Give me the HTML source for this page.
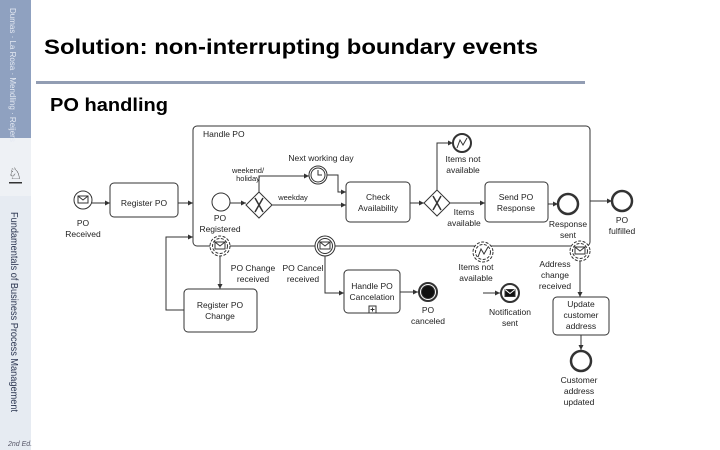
<!DOCTYPE html>
<html><head><meta charset="utf-8"><style>
html,body{margin:0;padding:0;width:720px;height:450px;overflow:hidden;background:#fff}
svg{display:block;font-family:"Liberation Sans",Arial,sans-serif}
</style></head><body>
<svg width="720" height="450" viewBox="0 0 720 450" xmlns="http://www.w3.org/2000/svg">
<defs>
<marker id="a" markerWidth="6" markerHeight="6" refX="5" refY="3" orient="auto" markerUnits="userSpaceOnUse"><path d="M0,0.5 L5,3 L0,5.5z" fill="#333"/></marker>
</defs>
<!-- sidebar -->
<rect x="0" y="0" width="31" height="138" fill="#8fa1c0"/>
<rect x="0" y="138" width="31" height="58" fill="#eef1f5"/>
<rect x="0" y="196" width="31" height="254" fill="#e6ebf2"/>
<text transform="translate(10,8) rotate(90)" font-size="8" fill="#e4e9f2">Dumas · La Rosa · Mendling · Reijers</text>
<text x="15" y="179" font-size="16" text-anchor="middle" fill="#333">♘</text>
<rect x="9" y="182" width="13" height="1.5" fill="#333"/>
<text transform="translate(11,212) rotate(90)" font-size="10.5" fill="#2b3550" textLength="200" lengthAdjust="spacingAndGlyphs">Fundamentals of Business Process Management</text>
<text x="8" y="446" font-size="7" fill="#556" font-style="italic">2nd Ed.</text>
<!-- title -->
<text x="44" y="54" font-size="21" font-weight="bold" fill="#000" textLength="494" lengthAdjust="spacingAndGlyphs">Solution: non-interrupting boundary events</text>
<rect x="36" y="81" width="549" height="3" fill="#929db3"/>
<text x="50" y="111" font-size="18" font-weight="600" fill="#000" textLength="118" lengthAdjust="spacingAndGlyphs">PO handling</text>
<g fill="none" stroke="#333" stroke-width="1">
<rect x="193" y="126" width="397" height="120" rx="4"/>
<circle cx="83" cy="200" r="9"/>
<rect x="78" y="196" width="10" height="7"/><path d="M78,196 L83,200 L88,196"/>
<rect x="110" y="183" width="68" height="34" rx="4"/>
<path d="M92,203 H110" marker-end="url(#a)"/>
<path d="M178,203 H193" marker-end="url(#a)"/>
<circle cx="221" cy="202" r="9"/>
<path d="M230,203 H246" marker-end="url(#a)"/>
<path d="M259,192 L272,205 L259,218 L246,205z"/>
<path d="M255,198 L263,212 M263,198 L255,212" stroke-width="1.5"/>
<path d="M259,192 V176 H309" marker-end="url(#a)"/>
<circle cx="318" cy="175" r="9"/><circle cx="318" cy="175" r="7"/>
<path d="M318,170 V175 H322"/>
<path d="M327,175 H338 V192 H346" marker-end="url(#a)"/>
<path d="M272,205 H346" marker-end="url(#a)"/>
<rect x="346" y="182" width="64" height="40" rx="4"/>
<path d="M410,203 H424" marker-end="url(#a)"/>
<path d="M437,190 L450,203 L437,216 L424,203z"/>
<path d="M433,196 L441,210 M441,196 L433,210" stroke-width="1.5"/>
<path d="M437,190 V143 H453" marker-end="url(#a)"/>
<circle cx="462" cy="143" r="9" stroke-width="2"/>
<path d="M457,148 L460,140 L463,145 L467,138" />
<path d="M450,203 H485" marker-end="url(#a)"/>
<rect x="485" y="182" width="63" height="40" rx="4"/>
<path d="M548,204 H558" marker-end="url(#a)"/>
<circle cx="568" cy="204" r="10" stroke-width="2.5"/>
<path d="M590,201 H612" marker-end="url(#a)"/>
<circle cx="622" cy="201" r="10" stroke-width="2.5"/>
<circle cx="220" cy="246" r="10" fill="#fff" stroke-dasharray="3,1.5"/><circle cx="220" cy="246" r="7.5" stroke-dasharray="3,1.5"/>
<rect x="215" y="242" width="10" height="7"/><path d="M215,242 L220,246 L225,242"/>
<path d="M220,256 V289" marker-end="url(#a)"/>
<rect x="184" y="289" width="73" height="43" rx="4"/>
<path d="M184,310 H166 V237 H193" marker-end="url(#a)"/>
<circle cx="325" cy="246" r="10" fill="#fff"/><circle cx="325" cy="246" r="7.5"/>
<rect x="320" y="242" width="10" height="7"/><path d="M320,242 L325,246 L330,242"/>
<path d="M325,256 V293 H344" marker-end="url(#a)"/>
<rect x="344" y="270" width="56" height="43" rx="4"/>
<rect x="369" y="306" width="7" height="7"/><path d="M372.5,307.5 V311.5 M370.5,309.5 H374.5"/>
<path d="M400,292 H418" marker-end="url(#a)"/>
<circle cx="428" cy="292" r="9" stroke-width="2"/>
<circle cx="428" cy="292" r="6.5" fill="#111"/>
<circle cx="483" cy="252" r="10" fill="#fff" stroke-dasharray="3,1.5"/><circle cx="483" cy="252" r="7.5" stroke-dasharray="3,1.5"/>
<path d="M478,257 L481,249 L484,254 L488,247"/>
<path d="M483,293 H500" marker-end="url(#a)"/>
<circle cx="510" cy="293" r="9" stroke-width="2"/>
<rect x="505" y="289.5" width="10" height="7" fill="#111"/><path d="M505,289.5 L510,293.5 L515,289.5" stroke="#fff"/>
<circle cx="580" cy="251" r="10" fill="#fff" stroke-dasharray="3,1.5"/><circle cx="580" cy="251" r="7.5" stroke-dasharray="3,1.5"/>
<rect x="575" y="247" width="10" height="7"/><path d="M575,247 L580,251 L585,247"/>
<path d="M580,261 V297" marker-end="url(#a)"/>
<rect x="553" y="297" width="56" height="38" rx="4"/>
<path d="M581,335 V350" marker-end="url(#a)"/>
<circle cx="581" cy="361" r="10" stroke-width="2.5"/>
</g>
<g font-size="8.5" fill="#222" text-anchor="middle">
<text x="83" y="226">PO</text><text x="83" y="237">Received</text>
<text x="144" y="206">Register PO</text>
<text x="203" y="137" text-anchor="start">Handle PO</text>
<text x="220" y="221">PO</text><text x="220" y="232">Registered</text>
<text x="248" y="173" font-size="7.5">weekend/</text><text x="248" y="181" font-size="7.5">holiday</text>
<text x="321" y="161">Next working day</text>
<text x="293" y="200" font-size="7.5">weekday</text>
<text x="378" y="200">Check</text><text x="378" y="211">Availability</text>
<text x="463" y="162">Items not</text><text x="463" y="173">available</text>
<text x="464" y="215">Items</text><text x="464" y="226">available</text>
<text x="516" y="200">Send PO</text><text x="516" y="211">Response</text>
<text x="568" y="227">Response</text><text x="568" y="238">sent</text>
<text x="622" y="223">PO</text><text x="622" y="234">fulfilled</text>
<text x="253" y="271">PO Change</text><text x="253" y="282">received</text>
<text x="303" y="271">PO Cancel</text><text x="303" y="282">received</text>
<text x="220" y="308">Register PO</text><text x="220" y="319">Change</text>
<text x="372" y="289">Handle PO</text><text x="372" y="300">Cancelation</text>
<text x="428" y="313">PO</text><text x="428" y="324">canceled</text>
<text x="476" y="270">Items not</text><text x="476" y="281">available</text>
<text x="510" y="315">Notification</text><text x="510" y="326">sent</text>
<text x="555" y="267">Address</text><text x="555" y="278">change</text><text x="555" y="289">received</text>
<text x="581" y="307">Update</text><text x="581" y="318">customer</text><text x="581" y="329">address</text>
<text x="579" y="383">Customer</text><text x="579" y="394">address</text><text x="579" y="405">updated</text>
</g>
</svg>
</body></html>
